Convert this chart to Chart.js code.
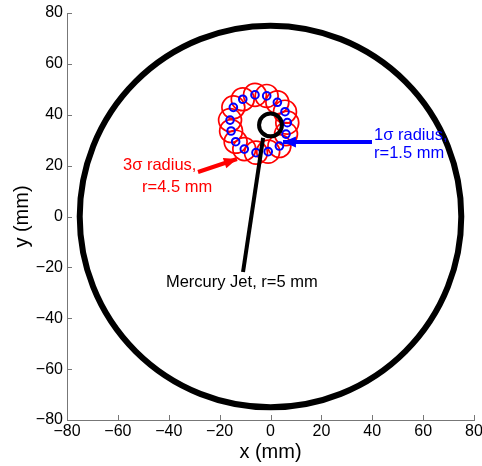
<!DOCTYPE html>
<html>
<head>
<meta charset="utf-8">
<script src="https://cdn.jsdelivr.net/npm/chart.js@4.4.0/dist/chart.umd.min.js"></script>
<style>
html, body { margin: 0; padding: 0; background: #fff; }
</style>
</head>
<body>
<canvas id="myChart" width="482" height="466"></canvas>
<script>
// Tick labels for both axes (mm)
const tickVals = [-80, -60, -40, -20, 0, 20, 40, 60, 80];

// Jet centre positions (mm)
const jetX = [-6.1, -1.5, 2.7, 5.7, 6.6, 6.1, 3.5, -0.9, -5.7, -10.3, -13.7, -15.5, -15.9, -14.6, -10.9];
const jetY = [47.8, 47.4, 44.9, 41.2, 36.9, 32.4, 27.7, 25.5, 25.1, 26.5, 29.4, 33.6, 37.9, 42.9, 46.1];

// Radii (mm)
const vesselR = 75;
const jetR = 4.5;
const sigma1R = 1.5;
const sigma3R = 4.5;
const jetCenterX = [0];
const jetCenterY = [36];

// Annotation lines: [tail, tip]
const blackLineX = [-10.8, -2.9];
const blackLineY = [-21.8, 30.9];
const redArrowX = [-28.5, -13.2];
const redArrowY = [17.5, 22.6];
const blueArrowX = [39.9, 4.9];
const blueArrowY = [29.3, 29.3];

const labels = [
    { text: "3σ radius,", x: -58, y: 19.9, color: "#ff0000" },
    { text: "r=4.5 mm", x: -50.5, y: 11.6, color: "#ff0000" },
    { text: "1σ radius,", x: 40.7, y: 32.0, color: "#0000ff" },
    { text: "r=1.5 mm", x: 40.7, y: 24.6, color: "#0000ff" },
    { text: "Mercury Jet, r=5 mm", x: -41.1, y: -26.1, color: "#000000" }
];

function toPoints(xs, ys) {
    return xs.map((x, i) => ({ x: x, y: ys[i] }));
}

// radius in pixels from a radius in mm, through the x scale
function pxR(chart, r) {
    const s = chart.scales.x;
    return Math.abs(s.getPixelForValue(r) - s.getPixelForValue(0));
}

function circleSet(xs, ys, r, color, width, order) {
    return {
        data: toPoints(xs, ys),
        showLine: false,
        pointRadius: c => pxR(c.chart, r),
        pointBorderColor: color,
        pointBackgroundColor: "rgba(0,0,0,0)",
        pointBorderWidth: width,
        clip: false,
        order: order
    };
}

function lineSet(xs, ys, color, head, order) {
    return {
        data: toPoints(xs, ys),
        showLine: true,
        borderColor: color,
        borderWidth: 4,
        pointRadius: 0,
        arrowHead: head,
        order: order
    };
}

const arrowPlugin = {
    id: "arrows",
    afterDatasetsDraw(chart) {
        const ctx = chart.ctx;
        chart.data.datasets.forEach((ds, i) => {
            if (!ds.arrowHead) return;
            const pts = chart.getDatasetMeta(i).data;
            const a = pts[0], b = pts[pts.length - 1];
            const ang = Math.atan2(b.y - a.y, b.x - a.x);
            const L = 13, W = 5.5;
            ctx.save();
            ctx.fillStyle = ds.borderColor;
            ctx.translate(b.x, b.y);
            ctx.rotate(ang);
            ctx.beginPath();
            ctx.moveTo(0, 0);
            ctx.lineTo(-L, -W);
            ctx.lineTo(-L, W);
            ctx.closePath();
            ctx.fill();
            ctx.restore();
        });
    }
};

// tick marks pointing into the plot, like matlab
const innerTicks = {
    id: "innerTicks",
    beforeDatasetsDraw(chart) {
        const ctx = chart.ctx;
        const sx = chart.scales.x, sy = chart.scales.y;
        const a = chart.chartArea;
        ctx.save();
        ctx.strokeStyle = "#777";
        ctx.lineWidth = 1;
        ctx.beginPath();
        tickVals.forEach(v => {
            const px = Math.round(sx.getPixelForValue(v)) + 0.5;
            ctx.moveTo(px, a.bottom);
            ctx.lineTo(px, a.bottom - 5);
            const py = Math.round(sy.getPixelForValue(v)) + 0.5;
            ctx.moveTo(a.left, py);
            ctx.lineTo(a.left + 5, py);
        });
        ctx.stroke();
        ctx.restore();
    }
};

const textPlugin = {
    id: "texts",
    afterDraw(chart) {
        const ctx = chart.ctx;
        const sx = chart.scales.x, sy = chart.scales.y;
        ctx.save();
        ctx.font = "16.5px 'Liberation Sans', Arial, sans-serif";
        ctx.textAlign = "left";
        ctx.textBaseline = "middle";
        labels.forEach(l => {
            ctx.fillStyle = l.color;
            ctx.fillText(l.text, sx.getPixelForValue(l.x), sy.getPixelForValue(l.y));
        });
        ctx.restore();
    }
};

function axis(title, titlePad, fitFn) {
    return {
        type: "linear",
        min: -80,
        max: 80,
        afterBuildTicks: s => { s.ticks = tickVals.map(v => ({ value: v })); },
        afterFit: fitFn,
        ticks: {
            color: "#000",
            padding: 4,
            font: { family: "'Liberation Sans', Arial, sans-serif", size: 16, lineHeight: 1.0 },
            callback: v => String(v).replace("-", "\u2212")
        },
        grid: { display: false, drawOnChartArea: false, drawTicks: false, tickLength: 0 },
        border: { display: true, color: "#777", width: 1 },
        title: {
            display: true,
            text: title,
            color: "#000",
            padding: titlePad,
            font: { family: "'Liberation Sans', Arial, sans-serif", size: 20, lineHeight: 1.2 }
        }
    };
}

var myChart = new Chart(document.getElementById("myChart"), {
    type: "scatter",
    data: {
        datasets: [
            circleSet([0], [0], vesselR, "#000", 6, 9),
            circleSet(jetX, jetY, sigma3R, "#ff0000", 1.7, 8),
            circleSet(jetX, jetY, sigma1R, "#0000ff", 2, 7),
            lineSet(redArrowX, redArrowY, "#ff0000", true, 6),
            circleSet(jetCenterX, jetCenterY, jetR, "#000", 4, 5),
            lineSet(blackLineX, blackLineY, "#000", false, 4),
            lineSet(blueArrowX, blueArrowY, "#0000ff", true, 3)
        ]
    },
    options: {
        responsive: false,
        animation: false,
        events: [],
        layout: { padding: { top: 13, right: 8, left: 6, bottom: 0 } },
        plugins: { legend: { display: false }, tooltip: { enabled: false } },
        scales: {
            x: axis("x (mm)", { top: 0, bottom: 2 }, s => {
                s.height = 46; s.paddingLeft = 0; s.paddingRight = 0;
            }),
            y: axis("y (mm)", { top: 4, bottom: 4 }, s => {
                s.width = 61; s.paddingTop = 0; s.paddingBottom = 0;
            })
        }
    },
    plugins: [arrowPlugin, innerTicks, textPlugin]
});
</script>
</body>
</html>
